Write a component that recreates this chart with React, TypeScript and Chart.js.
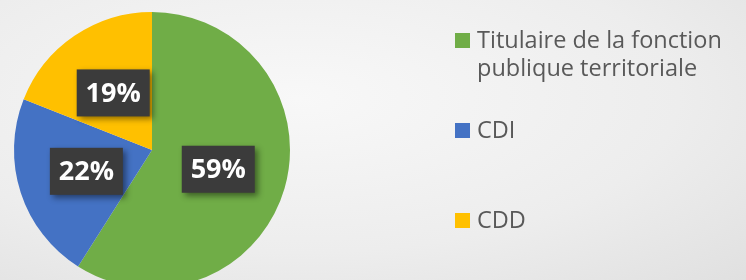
import React, { useEffect, useRef } from "react";
import { Chart, registerables } from "chart.js";

Chart.register(...registerables);

const categories = ["Titulaire de la fonction publique territoriale", "CDI", "CDD"];
const shares = [59, 22, 19];
const colors = ["#70AD47", "#4472C4", "#FFC000"];

const FONT = "'Open Sans', sans-serif";

const labelPlugin = {
  id: "boxLabels",
  afterDatasetsDraw(chart: any) {
    const ctx = chart.ctx;
    const meta = chart.getDatasetMeta(0);
    const data = chart.data.datasets[0].data as number[];
    const total = data.reduce((a, b) => a + b, 0);
    meta.data.forEach((arc: any, i: number) => {
      const p = arc.tooltipPosition();
      const txt = Math.round((data[i] / total) * 100) + "%";
      const w = 73, h = 47;
      ctx.save();
      ctx.shadowColor = "rgba(0,0,0,0.45)";
      ctx.shadowBlur = 6;
      ctx.shadowOffsetX = 3;
      ctx.shadowOffsetY = 3;
      ctx.fillStyle = "#3b3b3b";
      ctx.fillRect(p.x - w / 2, p.y - h / 2, w, h);
      ctx.restore();
      ctx.save();
      ctx.fillStyle = "#ffffff";
      ctx.font = `bold 27px ${FONT}`;
      ctx.textAlign = "center";
      ctx.textBaseline = "middle";
      ctx.fillText(txt, p.x, p.y + 1);
      ctx.restore();
    });
  },
};

const legendPlugin = {
  id: "sideLegend",
  afterDraw(chart: any) {
    const ctx = chart.ctx;
    const labels = chart.data.labels as string[];
    const bg = chart.data.datasets[0].backgroundColor as string[];
    const x0 = 455, sq = 15, tx = 477, maxW = 268, lineH = 28, step = 90;
    ctx.save();
    ctx.font = `23.5px ${FONT}`;
    ctx.textBaseline = "middle";
    ctx.textAlign = "left";
    labels.forEach((lab, i) => {
      const cy = 40.5 + i * step;
      ctx.fillStyle = bg[i];
      ctx.fillRect(x0, cy - sq / 2, sq, sq);
      const words = lab.split(" ");
      const lines: string[] = [];
      let cur = "";
      words.forEach((w) => {
        const t = cur ? cur + " " + w : w;
        if (ctx.measureText(t).width > maxW && cur) {
          lines.push(cur);
          cur = w;
        } else cur = t;
      });
      if (cur) lines.push(cur);
      ctx.fillStyle = "#595959";
      lines.forEach((ln, j) => ctx.fillText(ln, tx, cy + 1 + j * lineH));
    });
    ctx.restore();
  },
};

export default function App() {
  const ref = useRef<HTMLCanvasElement>(null);
  useEffect(() => {
    document.body.style.margin = "0";
    const chart = new Chart(ref.current!, {
      type: "pie",
      data: {
        labels: categories,
        datasets: [
          {
            data: shares,
            backgroundColor: colors,
            borderWidth: 0,
          },
        ],
      },
      options: {
        animation: false,
        responsive: false,
        layout: { padding: { left: 14, right: 456, top: 12, bottom: 12 } },
        plugins: { legend: { display: false }, tooltip: { enabled: false } },
      },
      plugins: [labelPlugin, legendPlugin],
    });
    return () => chart.destroy();
  }, []);
  return (
    <div
      style={{
        width: 746,
        height: 280,
        overflow: "hidden",
        background: "radial-gradient(ellipse at 40% 35%, #f8f8f8 0%, #ededed 60%, #e0e0e0 100%)",
      }}
    >
      <canvas ref={ref} width={746} height={300} style={{ display: "block" }} />
    </div>
  );
}
